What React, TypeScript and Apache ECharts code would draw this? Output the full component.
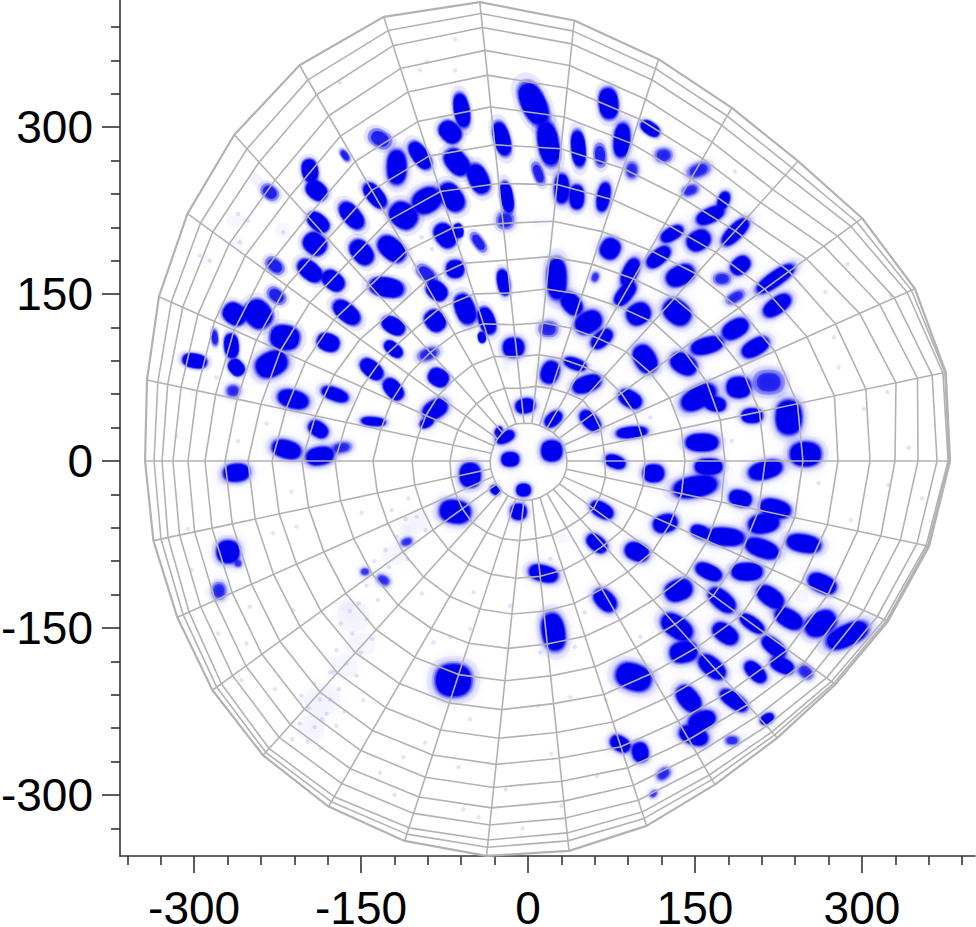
import React, { useEffect, useRef } from "react";
import * as echarts from "echarts";

// Reflection spots: [x, y, long axis, short axis, direction in degrees]
const spotsNW = [
  [-70,295.5,21,16.5,135],[-23.5,289.5,30,13.5,105],[-59.5,315,30,13,100],[-64,268.5,25.5,18,130],[-44.5,253.5,27,16.5,115],
  [-19,237,27,10.5,100],[-118,264,30,16.5,90],[-97,274.5,27,13.5,125],[-91,234,25.5,21,30],[-68.5,237,27,18,125],
  [-137.5,238.5,25.5,13.5,130],[-112,220.5,25.5,21,140],[-158.5,220.5,27,15,130],[-74.5,202.5,22.5,16.5,125],[-62.5,207,12,7.5,100],
  [-196,261,19.5,13.5,100],[-190,243,19.5,15,140],[-188.5,214.5,21,13.5,140],[-191.5,195,21,18,140],[-149.5,187.5,24,16.5,130],
  [-122.5,190.5,27,18,140],[-196,171,24,15,140],[-175,162,21,15,140],[-127,156,30,16.5,170],[-65.5,172.5,15,15,0],
  [-82,153,19.5,15,140],[-22,160.5,22.5,10.5,100],[-56.5,136.5,27,16.5,110],[-37,126,24,13.5,110],[-41.5,111,9,6,100],
  [-163,133.5,27,15,140],[-121,121.5,21,13.5,150],[-83.5,126,19.5,16.5,130],[-13,102,18,16.5,0],[-263.5,132,21,18,145],
  [-242.5,132,25.5,22.5,130],[-218.5,111,25.5,21,170],[-179.5,106.5,19.5,15,160],[-121,100.5,18,10.5,140],[-266.5,103.5,21,12,95],
  [-140.5,82.5,22.5,13.5,140],[-80.5,75,18,15,150],[-299.5,90,21,12,170],[-230.5,87,28.5,21,25],[-262,84,15,12,130],
  [-121,64.5,21,13.5,130],[-211,55.5,27,15,-15],[-173.5,60,24,10.5,-20],[-83.5,46.5,22.5,15,30],[-91,34.5,12,7,30],
  [-139,35.5,21,6.6,-5],[-188.5,28.5,18,12,-35],[-217,10.5,25.5,15,-15],[-187,4.5,24,15,10],[-20.5,21.5,16.5,9,25],
  [-26.5,27,7.5,4.5,60],[-2.5,49.5,16.5,12,10],[-16,1.5,15,12,0],
];
const spotsNE = [
  [5,321,39,21,115],[18.3,285.2,39,18,100],[72.3,321.2,27,16.5,95],[45.3,280.7,31.5,12,95],[84.3,288.2,30,13.5,85],
  [109.8,298.7,18,10.5,145],[30.3,244.7,25.5,12,90],[43.8,237.2,21,12,90],[67.8,237.2,25.5,10.5,80],[175.8,234.2,15,9,70],
  [163.8,220.7,25.5,12,25],[186.3,205.7,30,12,45],[153.3,198.2,21,16.5,30],[129.3,204.2,21,10.5,30],[117.3,183.2,24,12,40],
  [73.8,190.7,18,16.5,60],[91.8,169.7,25.5,12,65],[136.8,166.7,25.5,16.5,25],[190.8,175.7,18,13.5,40],[222.3,163.7,39,12,35],
  [223.8,139.7,27,13.5,35],[25.8,163.7,36,16.5,90],[87.3,150.2,24,12,50],[99.3,132.2,21,18,30],[133.8,133.7,25.5,19.5,-40],
  [39.3,141.2,21,15,-50],[54.3,124.7,24,18,30],[66.3,109.7,21,12,40],[186.3,118.7,24,15,30],[160.8,103.7,28.5,13.5,15],
  [204.3,102.2,25.5,13.5,30],[105.3,91.7,25.5,18,-60],[139.8,87.2,24,16.5,-30],[19.8,79.7,19.5,15,70],[42.3,87.2,19.5,9,-20],
  [52.8,69.2,25.5,13.5,20],[91.8,55.7,21,13.5,-30],[153.3,57.2,33,18,30],[168.3,51.2,18,12,-10],[189.3,66.2,21,18,0],
  [55.8,36.2,21,12,-45],[201.3,40.7,18,12,0],[234.3,39.2,30,22.5,90],[93.3,25.7,27,9,5],[22.8,37.7,16.5,10.5,40],
  [156.3,16.7,28.5,15,0],[21.3,9.2,18,18,0],[249.3,6.2,27,21,0],
];
const spotsSE = [
  [78.3,-0.6,18,10.5,-20],[112.8,-11.1,18,15,0],[150.3,-23.1,39,18,10],[162.3,-5.1,24,13.5,0],[213.3,-8.1,30,15,15],
  [190.8,-33.6,19.5,13.5,-15],[222.3,-42.6,27,15,-15],[211.8,-56.1,27,16.5,10],[123.3,-56.1,21,15,15],[154.8,-63.6,16.5,10.5,-20],
  [177.3,-68.1,33,15,-5],[210.3,-78.6,30,15,-20],[247.8,-74.1,30,15,-10],[66.3,-44.1,21,12,-30],[61.8,-74.1,19.5,12,-40],
  [97.8,-81.6,21,15,-20],[162.3,-99.6,24,12,-25],[196.8,-99.6,27,15,0],[264.3,-110.1,25.5,15,-25],[13.8,-101.1,25.5,13.5,-15],
  [135.3,-116.1,24,18,20],[217.8,-122.1,25.5,15,-35],[174.3,-125.1,27,15,-40],[234.3,-141.6,25.5,15,-30],[69.3,-125.1,22.5,15,-45],
  [262.8,-146.1,28.5,19.5,30],[286.8,-156.6,39,18,25],[133.8,-149.1,30,18,-35],[177.3,-155.1,24,15,-35],[201.3,-146.1,24,10.5,-35],
  [22.8,-153.6,33,19.5,-80],[220.8,-167.1,24,12,-40],[139.8,-171.6,24,18,10],[228.3,-183.6,21,12,-25],[165.3,-185.1,27,15,-40],
  [204.3,-189.6,22.5,12,-45],[94.8,-194.1,31.5,22.5,-20],[144.3,-213.6,25.5,16.5,-50],[184.8,-215.1,27,12,-35],[214.8,-231.6,12,7.5,30],
  [156.3,-233.1,24,15,20],[148.8,-246.6,25.5,15,-20],[82.8,-254.1,18,12,-30],[100.8,-261.6,16.5,13.5,-80],
];
const spotsSW = [
  [-262,-10.5,22.5,15,5],[-269.5,-81.6,19.5,19.5,0],[-65.5,-45.6,27,19.5,-10],[-52,-12.6,18,21,0],[-4,-26.1,12,10.5,0],
  [-29.5,-26.1,8.4,6.6,-40],[-8.5,-45.6,13.5,13.5,0],[-67,-197,31.5,28.5,0],
];
// Weaker spots, partly transparent
const weakSpots = [
  [-20.5,216,15,15,0],[-44.5,196.5,19.5,9,125],[-133,289.5,21,15,150],[-232,241.5,16.5,12,140],[-164.5,274.5,12,6,125],
  [-227.5,175.5,18,12,140],[-91,168,21,12,140],[-226,148.5,18,12,140],[-89.5,96,19.5,10.5,20],[-281.5,111,15,6,95],
  [-265,63,12,10.5,0],[-167.5,12,18,9,10],[9.3,258.2,21,9,110],[64.8,274.7,21,10.5,95],[121.8,274.7,15,12,0],
  [93.3,261.2,15,10.5,90],[153.3,261.2,21,12,20],[145.8,243.2,15,9,20],[174.3,163.7,15,10.5,0],[186.3,147.2,18,9,30],
  [60.3,165.2,9,6,70],[18.3,118.7,16.5,13.5,0],[216.3,70.7,27,21,0],[249.3,-189.6,15,10.5,-40],[183.3,-251.1,12,7.5,0],
  [121.8,-281.1,13.5,9,40],[112.8,-299.1,7.5,4.5,45],[-260.5,-92,6,6,0],[-277.6,-116.7,15,12,90],[-109,-72.6,10.5,6.6,20],
  [-130,-107,12,7.5,-30],[-146.5,-99.6,7.5,6,0],
];
// Pale clouds
const paleClouds = [
  [-244,252,15,10.5,130],[195.3,-248.1,15,6,30],[163.8,-267.6,9,4.5,45],[30.3,-69.6,15,7.5,0],[-274,-17,12,9,0],
  [-110.5,-62,12,9,0],[-163,-129.6,15,10.5,0],[-157,-140,32,30,0],[-150,-165,28,22,0],[-165,-185,26,24,0],[-185,-215,32,36,-60],
  [-195,-240,26,26,0],[-100,-55,28,20,0],[-120,-85,26,18,0],[-262,216,20,10,0],[-220,207,15,15,0],[-262,196,14,10,0],
  [246,-122,12,12,0],[12,215,9,18,90],[-20,85,8,12,0],[10,40,10,8,0],[-300,60,6,8,0],[-290,180,10,10,0],
];
// Single faint specks
const specks = [
  [-212.5,-27.6],[-149.5,-46.5],[-107.5,-33.6],[-122.5,-44],[-175,-189.6],[-154,-193],[-148,-215],[-203.5,-211],[-133,-280],
  [-112,-266],[-62.5,-275],[-58,-313],[-44.5,-320],[-92.5,-253],[-52,-232],[-178,-214],[-187,-214],[-181,-227],[-191.5,-239],
  [-70,-158],[-85,-163],[-52,-151],[-16,-130],[-49,-118],[-95.5,-119],[-211,-134],[-250,-131],[-278.5,-155],[-253,-164],
  [-227.5,-205],[-257.5,-197],[-305.5,-61],[-302.5,-98],[-229,-65],[-208,-59],[-65.5,379],[-97,351],[-91,358.7],[-65.5,351],
  [-169,340],[-295,184.5],[-286,180],[-316,22.5],[-235,33.6],[-260.5,18],[-280,75],[-260.5,222],[-251.5,216],[-259,196.5],
  [-220,205.5],[-86.5,190.5],[-95.5,201],[301.8,46.7],[323,62],[326,148.7],[275,111],[287,177],[267,152],[279,84],[342,12],
  [186,260],[110,39],[183,18],[324,-21.6],[354,-33.6],[290,-53],[261,-20],[20,-88],[11,-172],[51,-136],[42,-167],[62,-283],
  [21,-263],[38,-212],[9,-220],[101,-158],[-120,-300],[-20,-295],[-5,-330],[30,-310],[70,-215],
  [-160,-135],[-152,-128],[-168,-146],[-145,-142],[-158,-155],[-140,-160],[-172,-170],[-150,-172],[-163,-182],[-178,-190],
  [-170,-205],[-192,-200],[-197,-222],[-185,-232],[-205,-236],[-172,-238],[-198,-252],[-212,-250],[-186,-258],[-165,-225],
  [-100,-50],[-92,-62],[-110,-52],[-118,-68],[-128,-80],[-138,-90],[-125,-95],[-108,-88],[-145,-112],[-135,-125],[-128,-112],
];

// Mesh: spoke directions every 12 degrees, outer edge radius on each spoke
const spokeAngles = Array.from({ length: 30 }, (_, i) => i * 12);
const outerEdge = [
  379.2,383.7,380.5,371.1,362.6,366.3,379.6,398,414.6,419.6,410.6,394.4,378.2,363,350,344.1,
  344.1,345,350.4,355.8,358.5,358.9,356.7,352.2,344.7,335.7,334.7,341.4,354,368.4,
];
// Ring radii measured along a few spokes
const ringAnchors: [number, number[]][] = [
  [0,[35,69.2,105,141,177,213,247,278.5,307.3,329.7,350.4,367.5,377.4,378.3,379.2]],
  [12,[35,69.2,105,141,177,213,248,282,311,338.7,358.5,372,381.9,383.7,384.5]],
  [48,[34.1,73.7,102.4,132.1,168,196.8,226.4,252.5,278.5,293.8,312.7,328.8,345.9,354.9,363]],
  [96,[34.1,65.6,94.3,123.1,151.8,181.5,214.7,250.7,285.7,319.9,348.6,371,391.7,404.3,414.6]],
  [132,[34.1,69.2,98.8,131.2,156.3,181.5,212,240.8,268.6,295.6,319.9,339.6,361.2,377.4,394.4]],
  [180,[34.1,70.1,104.2,139.3,173.4,203.1,230,251.6,272.2,290.2,305.5,319,328.8,336,344.1]],
  [228,[35.9,74.6,106.9,140.2,174.3,204,231.8,256.1,279.4,300.1,319,334.2,347.7,352.2,355.8]],
  [276,[35,70.1,104.2,135.7,165.3,194.1,219.2,245.3,268.6,289.3,307.3,322.6,336,343.2,352.2]],
  [324,[35,72.8,105.1,138.4,175.2,205.8,236.3,263.3,288.4,307.3,319.9,331.5,336.9,339.6,341.4]],
];
const xMajor = [-300, -150, 0, 150, 300];
const yMajor = [-300, -150, 0, 150, 300];
const xMinor = [-360,-330,-270,-240,-210,-180,-120,-90,-60,-30,30,60,90,120,180,210,240,270,330,360,390];
const yMinor = [-330,-270,-240,-210,-180,-120,-90,-60,-30,30,60,90,120,180,210,240,270,330,360,390];

const X_MIN = -366.6, X_MAX = 401.6, Y_MIN = -354.9, Y_MAX = 414.2;
const PX = 1.113;
const BLUE = "#0000ee";
const GRID = "#b2b2b2";
const BLOB = "path://M0,-100C65,-100 100,-65 100,0C100,65 65,100 0,100C-65,100 -100,65 -100,0C-100,-65 -65,-100 0,-100Z";

function ringRadius(ring: number, spoke: number) {
  const a = spokeAngles[spoke];
  const list = [...ringAnchors, [360, ringAnchors[0][1]] as [number, number[]]];
  let i = 0;
  while (i < list.length - 2 && list[i + 1][0] <= a) i++;
  const [a0, r0] = list[i];
  const [a1, r1] = list[i + 1];
  const t = (a - a0) / (a1 - a0);
  const outer0 = r0[14], outer1 = r1[14];
  const frac = (r0[ring] / outer0) * (1 - t) + (r1[ring] / outer1) * t;
  return frac * outerEdge[spoke];
}
function polar(r: number, spoke: number) {
  const th = (spokeAngles[spoke] * Math.PI) / 180;
  return [r * Math.cos(th), r * Math.sin(th)];
}

function spotLayer(data: number[][], scale: number, opacity: number, z: number, blur: number) {
  return {
    type: "scatter" as const,
    data,
    silent: true,
    z,
    symbol: BLOB,
    symbolKeepAspect: false,
    symbolSize: (v: number[]) => [v[2] * PX * scale + 1, v[3] * PX * scale + 1],
    symbolRotate: (v: number[]) => v[4],
    itemStyle: { color: BLUE, opacity, shadowBlur: blur, shadowColor: BLUE },
  };
}
function lineLayer(points: number[][], width: number) {
  return {
    type: "line" as const,
    data: points,
    silent: true,
    z: 10,
    symbol: "none",
    clip: false,
    lineStyle: { color: GRID, width },
  };
}

export default function App() {
  const ref = useRef<HTMLDivElement>(null);
  useEffect(() => {
    if (!ref.current) return;
    const chart = echarts.init(ref.current, undefined, { renderer: "svg" });
    const strong = [...spotsNW, ...spotsNE, ...spotsSE, ...spotsSW];
    const rings = Array.from({ length: 14 }, (_, k) => {
      const pts = spokeAngles.map((_, s) => polar(ringRadius(k, s), s));
      pts.push(pts[0]);
      return lineLayer(pts, 1.6);
    });
    const edgePts = spokeAngles.map((_, s) => polar(outerEdge[s], s));
    edgePts.push(edgePts[0]);
    const spokes = spokeAngles.map((_, s) =>
      lineLayer([polar(ringRadius(0, s), s), polar(outerEdge[s], s)], 1.6)
    );
    const labelStyle = { fontFamily: "Liberation Sans", fontSize: 46, color: "#000" };
    const axisLine = { show: true, onZero: false, lineStyle: { color: "#333", width: 1.6 } };
    const major = (values: number[], len: number) => ({
      show: true, customValues: values, length: len, lineStyle: { color: "#333", width: 1.6 },
    });
    chart.setOption({
      animation: false,
      backgroundColor: "#fff",
      grid: { left: 120, right: 1, top: 0, bottom: 71, containLabel: false, outerBoundsMode: "none" },
      xAxis: [
        {
          type: "value", min: X_MIN, max: X_MAX, position: "bottom", splitLine: { show: false },
          axisLine, axisTick: major(xMajor, 17),
          axisLabel: { ...labelStyle, customValues: xMajor, margin: 29, hideOverlap: false },
        },
        {
          type: "value", min: X_MIN, max: X_MAX, position: "bottom", splitLine: { show: false },
          axisLine: { show: false, onZero: false }, axisTick: major(xMinor, 9),
          axisLabel: { show: false },
        },
      ],
      yAxis: [
        {
          type: "value", min: Y_MIN, max: Y_MAX, position: "left", splitLine: { show: false },
          axisLine, axisTick: major(yMajor, 18),
          axisLabel: { ...labelStyle, customValues: yMajor, margin: 27, hideOverlap: false },
        },
        {
          type: "value", min: Y_MIN, max: Y_MAX, position: "left", splitLine: { show: false },
          axisLine: { show: false, onZero: false }, axisTick: major(yMinor, 9),
          axisLabel: { show: false },
        },
      ],
      series: [
        { type: "scatter", data: specks, silent: true, z: 1, symbol: "circle", symbolSize: 4.5, itemStyle: { color: BLUE, opacity: 0.11 } },
        spotLayer(paleClouds, 0.9, 0.025, 1, 14),
        spotLayer(weakSpots, 1.4, 0.06, 2, 10),
        spotLayer(weakSpots, 1.05, 0.25, 2, 6),
        spotLayer(weakSpots, 0.75, 0.5, 2, 4),
        spotLayer(strong, 1.5, 0.05, 3, 12),
        spotLayer(strong, 1.2, 0.14, 3, 8),
        spotLayer(strong, 1.08, 0.3, 3, 5),
        spotLayer(strong, 0.96, 1, 4, 3),
        ...rings,
        ...spokes,
        lineLayer(edgePts, 2.2),
      ],
    });
    return () => chart.dispose();
  }, []);
  return <div ref={ref} style={{ position: "absolute", left: 0, top: 0, width: 976, height: 927 }} />;
}
